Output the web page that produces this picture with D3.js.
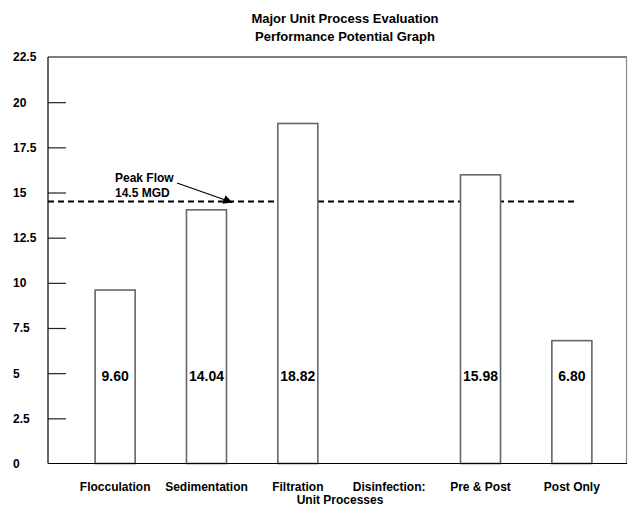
<!DOCTYPE html>
<html>
<head>
<meta charset="utf-8">
<script src="https://cdn.jsdelivr.net/npm/d3@7"></script>
<style>
  html, body { margin: 0; padding: 0; background: #fff; }
  svg { display: block; font-family: "Liberation Sans", Arial, Helvetica, sans-serif; font-weight: bold; }
</style>
</head>
<body>
<svg id="chart" width="628" height="506"></svg>
<script>
// ---- data ----
const titleLines = ["Major Unit Process Evaluation", "Performance Potential Graph"];
const categories = ["Flocculation", "Sedimentation", "Filtration", "Disinfection:", "Pre & Post", "Post Only"];
const values = [9.60, 14.04, 18.82, null, 15.98, 6.80];
const valueLabels = ["9.60", "14.04", "18.82", "", "15.98", "6.80"];
const yTickValues = [0, 2.5, 5, 7.5, 10, 12.5, 15, 17.5, 20, 22.5];
const yTickLabels = ["0", "2.5", "5", "7.5", "10", "12.5", "15", "17.5", "20", "22.5"];
const peakFlow = 14.5;
const peakLabelLines = ["Peak Flow", "14.5 MGD"];
const xTitle = "Unit Processes";

// ---- layout ----
const plotL = 48, plotR = 627, plotB = 463.5, plotT = 57;
const svg = d3.select("#chart");

const x = d3.scaleBand()
  .domain(categories)
  .range([plotL, 639])
  .paddingInner(0.562)
  .paddingOuter(0.516);

const y = d3.scaleLinear().domain([0, 22.5]).range([plotB, plotT]);

// title
svg.append("g").selectAll("text").data(titleLines).join("text")
  .attr("x", 345)
  .attr("y", (d, i) => 23 + i * 18)
  .attr("text-anchor", "middle")
  .attr("font-size", 13)
  .attr("fill", "#000")
  .text(d => d);

// peak flow dashed line (behind bars)
svg.append("line")
  .attr("x1", plotL).attr("x2", 578)
  .attr("y1", y(peakFlow)).attr("y2", y(peakFlow))
  .attr("stroke", "#000")
  .attr("stroke-width", 2)
  .attr("stroke-dasharray", "6,4");

// y axis ticks (inside) and left-aligned labels
const yAxis = d3.axisLeft(y)
  .tickValues(yTickValues)
  .tickFormat((d, i) => yTickLabels[i])
  .tickSizeInner(-18)
  .tickSizeOuter(0);
const gy = svg.append("g").attr("transform", `translate(${plotL},0)`).call(yAxis);
gy.select(".domain").remove();
gy.selectAll(".tick line").attr("stroke", "#222").attr("stroke-width", 1.2);
gy.selectAll(".tick").filter(d => d === 0 || d === 22.5).select("line").remove();
gy.selectAll(".tick text")
  .attr("x", 13 - plotL)
  .attr("text-anchor", "start")
  .attr("font-size", 12)
  .attr("font-family", "Liberation Sans, Arial, sans-serif")
  .attr("font-weight", "bold")
  .attr("fill", "#000");

// bars
const barData = categories.map((c, i) => ({ c, v: values[i], label: valueLabels[i] }))
  .filter(d => d.v !== null);

svg.append("g").selectAll("rect").data(barData).join("rect")
  .attr("x", d => x(d.c))
  .attr("y", d => y(d.v))
  .attr("width", x.bandwidth())
  .attr("height", d => y(0) - y(d.v))
  .attr("fill", "#fff")
  .attr("stroke", "#666")
  .attr("stroke-width", 1.6);

// value labels inside bars
svg.append("g").selectAll("text").data(barData).join("text")
  .attr("x", d => x(d.c) + x.bandwidth() / 2)
  .attr("y", y(5) + 8)
  .attr("text-anchor", "middle")
  .attr("font-size", 14)
  .attr("fill", "#000")
  .text(d => d.label);

// frame
svg.append("line").attr("x1", plotL).attr("x2", plotR).attr("y1", plotT).attr("y2", plotT)
  .attr("stroke", "#000").attr("stroke-width", 1.2);
svg.append("line").attr("x1", plotR - 0.5).attr("x2", plotR - 0.5).attr("y1", plotT).attr("y2", plotB)
  .attr("stroke", "#888").attr("stroke-width", 1.2);
svg.append("line").attr("x1", plotL).attr("x2", plotL).attr("y1", plotT).attr("y2", plotB)
  .attr("stroke", "#000").attr("stroke-width", 1.2);
svg.append("line").attr("x1", plotL).attr("x2", plotR).attr("y1", plotB).attr("y2", plotB)
  .attr("stroke", "#000").attr("stroke-width", 1.2);

// x axis labels
const xAxis = d3.axisBottom(x).tickSize(0).tickPadding(19);
const gx = svg.append("g").attr("transform", `translate(0,${plotB})`).call(xAxis);
gx.select(".domain").remove();
gx.selectAll(".tick text")
  .attr("font-size", 12)
  .attr("font-family", "Liberation Sans, Arial, sans-serif")
  .attr("font-weight", "bold")
  .attr("fill", "#000");

// x title
svg.append("text")
  .attr("x", 340).attr("y", 504)
  .attr("text-anchor", "middle")
  .attr("font-size", 12)
  .attr("fill", "#000")
  .text(xTitle);

// peak flow annotation
svg.append("defs").append("marker")
  .attr("id", "arrow")
  .attr("viewBox", "0 0 10 10")
  .attr("refX", 10).attr("refY", 5)
  .attr("markerWidth", 11).attr("markerHeight", 9)
  .attr("markerUnits", "userSpaceOnUse")
  .attr("orient", "auto")
  .append("path").attr("d", "M0,0 L10,5 L0,10 Z").attr("fill", "#000");

svg.append("g").selectAll("text").data(peakLabelLines).join("text")
  .attr("x", 115)
  .attr("y", (d, i) => 182 + i * 15)
  .attr("font-size", 12)
  .attr("fill", "#000")
  .text(d => d);

svg.append("line")
  .attr("x1", 177).attr("y1", 183)
  .attr("x2", x("Sedimentation") + x.bandwidth() + 6).attr("y2", y(peakFlow) + 1)
  .attr("stroke", "#000").attr("stroke-width", 1.2)
  .attr("marker-end", "url(#arrow)");
</script>
</body>
</html>
